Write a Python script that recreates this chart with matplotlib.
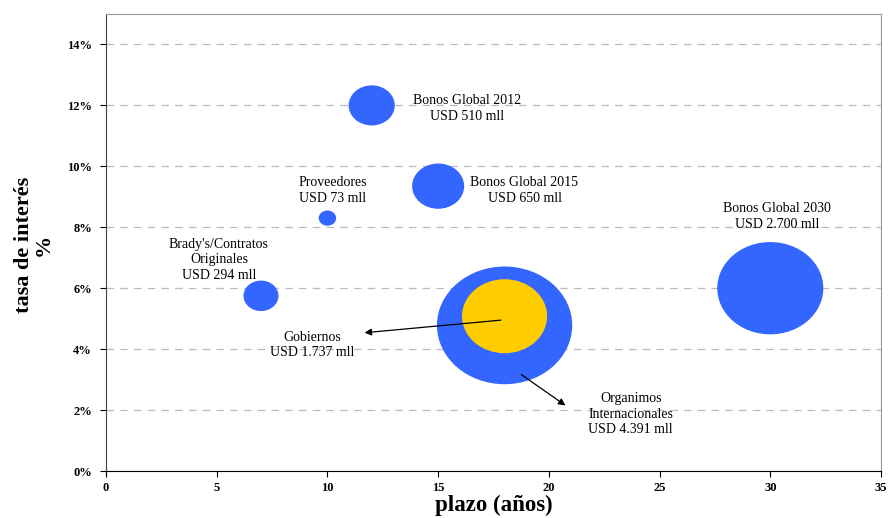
import matplotlib.pyplot as plt
import numpy as np
from matplotlib.path import Path
from matplotlib.markers import MarkerStyle
from matplotlib.ticker import PercentFormatter

# datos de las burbujas
nombres = ["Bonos Global 2012", "Bonos Global 2015", "Proveedores", "Brady's/Contratos Originales",
           "Bonos Global 2030", "Organimos Internacionales", "Gobiernos"]
plazo = [12, 15, 10, 7, 30, 18, 18]
tasa = [12.0, 9.35, 8.3, 5.75, 6.0, 4.78, 5.08]
monto = [510, 650, 73, 294, 2700, 4391, 1737]
colores = ["#3366FF"] * 6 + ["#FFCC00"]

etiquetas = ["Bonos Global 2012\nUSD 510 mll",
             "Bonos Global 2015\nUSD 650 mll",
             "Proveedores\nUSD 73 mll",
             "Brady's/Contratos\nOriginales\nUSD 294 mll",
             "Bonos Global 2030\nUSD 2.700 mll",
             "Organimos\nInternacionales\nUSD 4.391 mll",
             "Gobiernos\nUSD 1.737 mll"]
# posicion de cada etiqueta (x, y)
pos_etiq = [(16.3, 11.9), (18.9, 9.2), (10.25, 9.2), (5.1, 6.93),
            (30.3, 8.35), (23.7, 1.87), (9.3, 4.14)]

plt.rcParams['font.family'] = ['Liberation Serif', 'DejaVu Serif']

fig = plt.figure(figsize=(8.89, 5.18), dpi=100)
ax = fig.add_axes([106 / 889, 47 / 518, 775 / 889, 457 / 518])

# marcador eliptico (las burbujas salen algo achatadas)
circ = Path.unit_circle()
elipse = Path(circ.vertices * np.array([1.0, 0.87]), circ.codes)
marker = MarkerStyle(elipse)

for x, y, m, c in zip(plazo, tasa, monto, colores):
    ax.scatter(x, y, s=2.16 * m, marker=marker, color=c, edgecolor='none', zorder=3)

for txt, (tx, ty) in zip(etiquetas, pos_etiq):
    ax.text(tx, ty, txt, ha='center', va='center', fontsize=10, linespacing=1.25, zorder=5)

# flechas
ax.annotate("", xy=(11.55, 4.53), xytext=(17.95, 4.96),
            arrowprops=dict(arrowstyle='-|>', color='black', lw=0.9, mutation_scale=10), zorder=6)
ax.annotate("", xy=(20.85, 2.1), xytext=(18.65, 3.22),
            arrowprops=dict(arrowstyle='-|>', color='black', lw=0.9, mutation_scale=10), zorder=6)

ax.set_xlim(0, 35)
ax.set_ylim(0, 15)
ax.set_xticks(np.arange(0, 36, 5))
ax.set_yticks(np.arange(0, 15, 2))
ax.yaxis.set_major_formatter(PercentFormatter(decimals=0))
ax.grid(axis='y', color='#bbbbbb', linestyle=(0, (6, 5)), lw=0.9)
ax.set_axisbelow(True)

for lab in ax.get_xticklabels() + ax.get_yticklabels():
    lab.set_fontweight('bold')
    lab.set_fontsize(9)
ax.tick_params(axis='y', length=4, width=0.8, pad=6)
ax.tick_params(axis='x', length=4, width=0.8, pad=4)

ax.spines['top'].set_color('#999999')
ax.spines['right'].set_color('#999999')
ax.spines['left'].set_color('#444444')
ax.spines['bottom'].set_color('black')

ax.set_xlabel("plazo (años)", fontsize=16.5, fontweight='bold')
ax.xaxis.set_label_coords(0.5, -0.053)
ax.set_ylabel("tasa de interés\n%", fontsize=16, fontweight='bold', linespacing=1.0)
ax.yaxis.set_label_coords(-0.067, 0.495)

fig.savefig("out.png", dpi=100)
